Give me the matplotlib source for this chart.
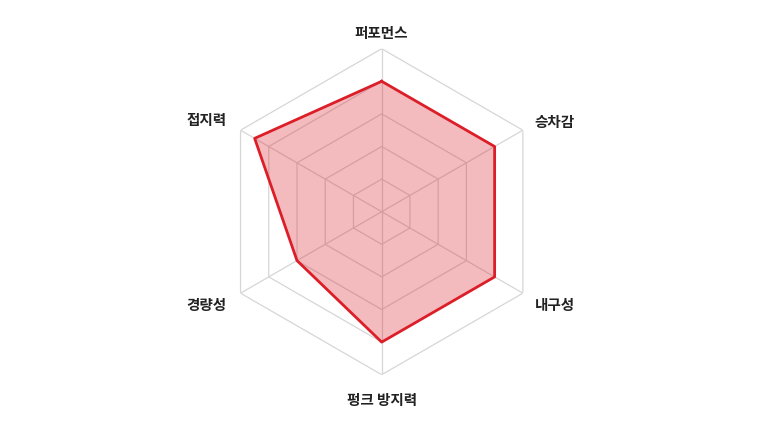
import numpy as np
import matplotlib.pyplot as plt

plt.rcParams['font.family'] = ['Noto Sans CJK KR', 'DejaVu Sans']

labels = ['퍼포먼스', '승차감', '내구성', '펑크 방지력', '경량성', '접지력']
values = [4, 4, 4, 4, 3, 4.5]
levels = [1, 2, 3, 4, 5]
rmax = 5

W, H = 773, 424
fig = plt.figure(figsize=(W / 100, H / 100), dpi=100)
cx, cy, r = 381.7, 211.7, 163
ax = fig.add_axes([(cx - r) / W, 1 - (cy + r) / H, 2 * r / W, 2 * r / H],
                  projection='polar')
ax.set_theta_offset(np.pi / 2)
ax.set_theta_direction(-1)

n = len(labels)
angles = np.arange(n) * 2 * np.pi / n
closed = np.append(angles, angles[0])

# hexagonal grid
for lv in levels:
    ax.plot(closed, [lv] * (n + 1), color='#d6d6d6', lw=0.9, zorder=1)
for a in angles:
    ax.plot([a, a], [0, rmax], color='#d6d6d6', lw=0.9, zorder=1)

vals = np.append(values, values[0])
ax.fill(closed, vals, color='#dc1e28', alpha=0.3, lw=0, zorder=2)
ax.plot(closed, vals, color='#dc1e28', lw=2, zorder=3)

ax.set_ylim(0, rmax)
ax.grid(False)
ax.spines['polar'].set_visible(False)
ax.set_xticks([])
ax.set_yticks([])
ax.patch.set_alpha(0)

# label offsets from the outer vertex, in pixels (x right, y up)
offsets = [(0, 16, 'center'), (12, 8, 'left'), (12, -12, 'left'),
           (0, -25, 'center'), (-14, -12, 'right'), (-14, 10, 'right')]
for a, lab, (dx, dy, ha) in zip(angles, labels, offsets):
    ax.annotate(lab, xy=(a, rmax), xytext=(dx * 0.72, dy * 0.72),
                textcoords='offset points', ha=ha, va='center',
                fontsize=10.5, fontweight='bold', color='#222222',
                annotation_clip=False)

fig.savefig('out.png', dpi=100)
